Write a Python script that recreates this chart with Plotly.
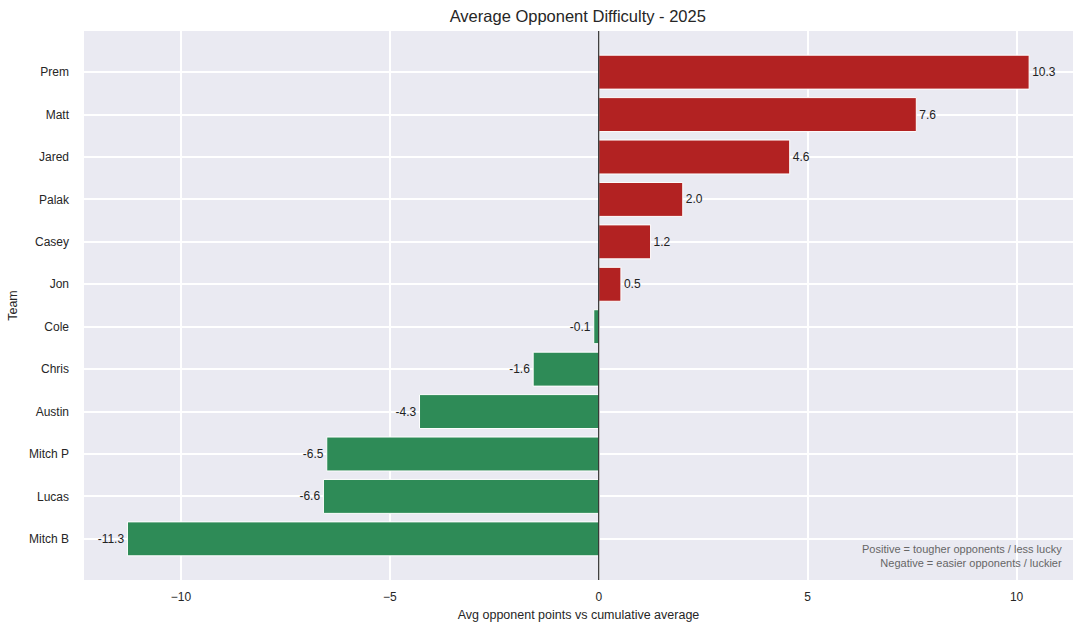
import plotly.graph_objects as go

teams = ["Prem", "Matt", "Jared", "Palak", "Casey", "Jon", "Cole", "Chris", "Austin", "Mitch P", "Lucas", "Mitch B"]
values = [10.30, 7.60, 4.57, 2.01, 1.24, 0.53, -0.12, -1.57, -4.29, -6.51, -6.59, -11.28]

RED = "#B22222"
GREEN = "#2E8B57"
colors = [RED if v > 0 else GREEN for v in values]
labels = [f"{v:.1f}" for v in values]

fig = go.Figure()
fig.add_trace(go.Bar(
    x=values, y=teams, orientation="h",
    marker=dict(color=colors, line=dict(color="white", width=1)),
    width=0.8,
    text=labels, textposition="outside",
    textfont=dict(size=12, color="#222222"),
    cliponaxis=False,
    hoverinfo="x+y",
))

fig.add_shape(type="line", xref="x", yref="paper", x0=0, x1=0, y0=0, y1=1,
              line=dict(color="black", width=1))

fig.add_annotation(
    xref="paper", yref="paper", x=0.991, y=0.016, xanchor="right", yanchor="bottom",
    text="Positive = tougher opponents / less lucky<br>Negative = easier opponents / luckier",
    showarrow=False, align="right",
    font=dict(size=11, color="#666666"),
)

fig.update_layout(
    width=1084, height=634,
    margin=dict(l=84, r=11, t=31, b=54),
    paper_bgcolor="white",
    plot_bgcolor="#EAEAF2",
    font=dict(family="Liberation Sans, Arial, sans-serif", size=12, color="#262626"),
    title=dict(text="Average Opponent Difficulty - 2025", x=0.533, xanchor="center",
               y=0.975, yanchor="middle", font=dict(size=16.5, color="#262626")),
    showlegend=False,
    bargap=0.2,
)
fig.update_xaxes(
    range=[-12.32, 11.35], tickvals=[-10, -5, 0, 5, 10], ticktext=["−10", "−5", "0", "5", "10"],
    showgrid=True, gridcolor="white", gridwidth=1.5, zeroline=False,
    title=dict(text="Avg opponent points vs cumulative average", font=dict(size=12.5), standoff=7),
    ticks="", showline=False, tickfont=dict(size=12), ticklabelstandoff=8,
)
fig.update_yaxes(
    categoryorder="array", categoryarray=teams, autorange=False, range=[11.97, -0.97],
    showgrid=True, gridcolor="white", gridwidth=1.5, zeroline=False,
    title=dict(text="Team", font=dict(size=12.5), standoff=8),
    ticks="", showline=False, tickfont=dict(size=12), ticklabelstandoff=14,
)

fig.write_html("out.html")
